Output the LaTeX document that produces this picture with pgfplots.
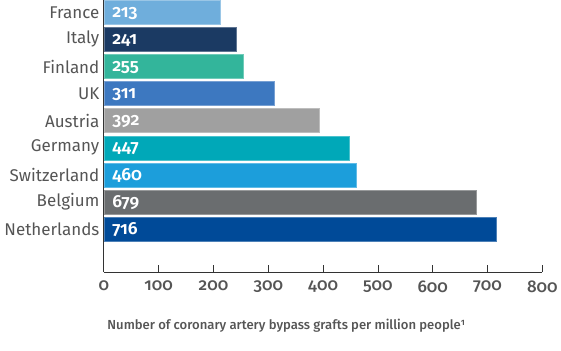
\documentclass[border=0pt]{standalone}
\usepackage{pgfplots}
\pgfplotsset{compat=1.18}
\usepackage{fontspec}
\setmainfont{Fira Sans}[Numbers=OldStyle]
\newfontfamily\medfont{Fira Sans Medium}[Numbers=OldStyle]
\newfontfamily\semifont{Fira Sans SemiBold}[Numbers=OldStyle]
\definecolor{cFrance}{HTML}{6FAEDC}
\definecolor{cItaly}{HTML}{1B3A63}
\definecolor{cFinland}{HTML}{33B59B}
\definecolor{cUK}{HTML}{3D78C0}
\definecolor{cAustria}{HTML}{A0A0A0}
\definecolor{cGermany}{HTML}{00A8B8}
\definecolor{cSwitz}{HTML}{1C9EDB}
\definecolor{cBelgium}{HTML}{6A6D6F}
\definecolor{cNeth}{HTML}{004A98}
\definecolor{txt}{HTML}{555555}
\definecolor{axl}{HTML}{333333}
\begin{document}
\begin{tikzpicture}
\begin{axis}[
  scale only axis,
  width=439pt, height=272pt,
  xmin=0, xmax=800,
  ymin=-0.44, ymax=9.59,
  y dir=reverse,
  axis lines*=left,
  axis line style={axl, line width=0.8pt},
  xtick={0,100,...,800},
  tick align=inside,
  major tick length=7pt,
  xtick style={axl, line width=0.8pt},
  ytick={0,...,8},
  yticklabels={France,Italy,Finland,UK,Austria,Germany,Switzerland,Belgium,Netherlands},
  ytick style={draw=none},
  yticklabel style={font=\fontsize{17}{18}\selectfont, text=txt, xshift=-1pt},
  xticklabel style={font=\fontsize{17}{18}\selectfont\medfont, text=txt, yshift=-5pt},
  /pgf/number format/assume math mode=true,
  xlabel={Number of coronary artery bypass grafts per million people\textsuperscript{1}},
  xlabel style={at={(rel axis cs:0,0)}, anchor=west, yshift=-54pt, font=\fontsize{13.1}{14}\selectfont\medfont, text=txt},
  clip=false,
]
\addplot[xbar, bar width=24pt, bar shift=0pt, fill=cFrance, draw=cFrance!70!white] coordinates {(213,0)};
\addplot[xbar, bar width=24pt, bar shift=0pt, fill=cItaly, draw=cItaly!70!white] coordinates {(241,1)};
\addplot[xbar, bar width=24pt, bar shift=0pt, fill=cFinland, draw=cFinland!70!white] coordinates {(255,2)};
\addplot[xbar, bar width=24pt, bar shift=0pt, fill=cUK, draw=cUK!70!white] coordinates {(311,3)};
\addplot[xbar, bar width=24pt, bar shift=0pt, fill=cAustria, draw=cAustria!70!white] coordinates {(392,4)};
\addplot[xbar, bar width=24pt, bar shift=0pt, fill=cGermany, draw=cGermany!70!white] coordinates {(447,5)};
\addplot[xbar, bar width=24pt, bar shift=0pt, fill=cSwitz, draw=cSwitz!70!white] coordinates {(460,6)};
\addplot[xbar, bar width=24pt, bar shift=0pt, fill=cBelgium, draw=cBelgium!70!white] coordinates {(679,7)};
\addplot[xbar, bar width=24pt, bar shift=0pt, fill=cNeth, draw=cNeth!70!white] coordinates {(716,8)};
\addplot[draw=none, mark=none, nodes near coords, point meta=explicit symbolic,
  nodes near coords style={anchor=west, text=white, font=\fontsize{17.5}{18}\selectfont\semifont, xshift=5pt, yshift=-1pt}]
  coordinates {(0,0)[213] (0,1)[241] (0,2)[255] (0,3)[311] (0,4)[392] (0,5)[447] (0,6)[460] (0,7)[679] (0,8)[716]};
\path[use as bounding box] (rel axis cs:0,0) ++(-104pt,-79pt) rectangle ++(561pt,351pt);
\end{axis}
\end{tikzpicture}
\end{document}
